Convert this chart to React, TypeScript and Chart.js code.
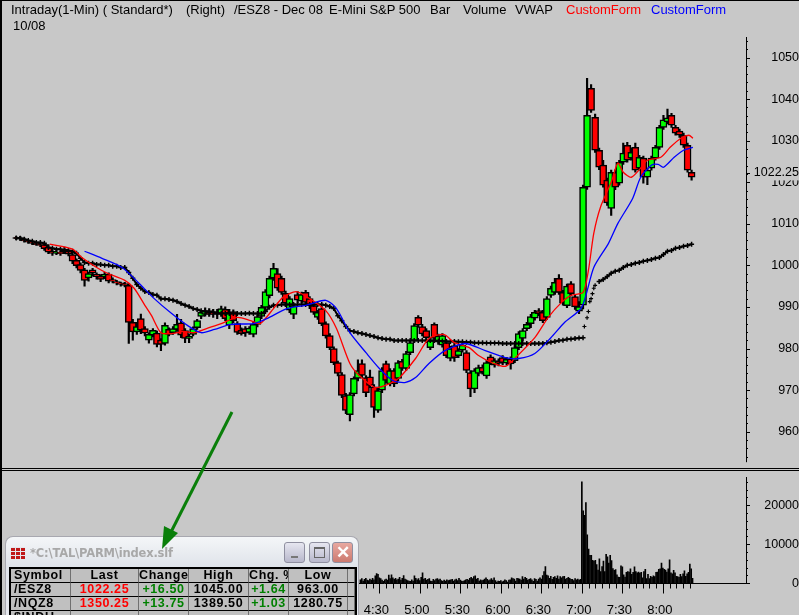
import React, { useEffect, useRef } from "react";
import { Chart, registerables } from "chart.js";

Chart.register(...registerables);

const opens = [
  1006.7,
  1006.6,1006.3,1005.9,1005.6,1005.3,1005,1005,1004.4,1003.4,1003,
  1003.2,1003.9,1003.4,1002.6,1001.2,1000.2,998.9,997,998.9,997.9,
  997.4,997.2,997.9,996.6,996.1,995.8,995.6,995.2,986.3,984,
  987.2,984.8,982,983.2,983.7,982,981.2,984.6,983.8,984.6,
  986.2,984.3,982.4,983.4,985,987.7,988.2,989.1,988.7,988.2,
  988.2,989.4,985.6,988.9,986,984.4,984.8,983.9,
  983.4,985.8,987.7,989.9,992.7,996.9,998,996.9,993.3,989.2,
  988.2,993,991.4,993.5,992,990.3,987.5,989.6,986,983.1,
  980,976.6,973.7,968.7,964.1,969.1,972.8,976.4,973,973.2,
  970.8,965.1,970,976.4,971.5,974.7,972.8,976.9,975.2,979,
  981.9,987.5,985.3,984.3,980.2,985.8,981.5,980.8,981.4,977.6,
  980.7,978.3,979.6,979,974.2,970.3,974,975.5,973.4,978,
  976,977,977.8,976.5,977.5,977.1,980.2,982.4,984.8,986,
  987.3,989.1,988.7,987.5,992.8,993.5,996.9,993.5,990.3,995.6,
  992.5,989,990.4,1018.8,1042.6,1035.6,1027.7,1024.1,1020.5,1013.7,
  1022.4,1019.8,1024.8,1028.9,1025.8,1028.4,1023.4,1025.8,1021.2,1023.4,
  1025.8,1028.4,1033.2,1034.5,1036.1,1033.2,1032.3,1031.3,1028.9,1022.4,
];
const closes = [
  1006.5,
  1006.3,1005.9,1005.6,1005.3,1005,1004.8,1004,1003.2,1002.9,1003.2,
  1002.8,1003.2,1002.7,1001,999.9,998.8,996.4,998,998.1,997.3,
  996.6,997.9,996.2,996.2,995.7,995.4,995.2,986.3,984,985.3,
  984.4,983.7,983.4,984.4,981,981,985.6,983.4,984.8,985.8,
  983.2,982.4,983,984.8,986.7,988.7,989.1,988.2,988.2,988.9,
  989.6,987.2,988.7,986.7,983.9,983.6,983.7,984.9,
  985.8,987.7,989.9,993.7,996.9,999.3,994.5,993.5,990.9,992,
  990.3,991.6,993,991.1,990.3,988.7,988.7,986,983,980.2,
  976.6,974,968.7,965.1,968.9,972.8,974.7,973.5,969.4,971.1,
  965.8,969.9,974.7,972.3,974.7,971.5,976.6,975.2,978.8,981.4,
  985.5,985.6,983.5,982.6,981.9,982.4,983,983.1,978.3,980,
  977.8,979.5,980.8,974.7,970.3,974.7,975.4,974.3,976.6,976.6,
  977.1,976.4,976.6,977.4,976.3,980.2,983.6,984.3,985.8,987.7,
  988.7,988.4,986.7,992,994.5,995.9,993.5,990.9,995,993.2,
  990,990.1,1018.8,1036.1,1037.3,1027.7,1023.6,1019.3,1015,1022.4,
  1018.8,1024.8,1027,1025.3,1027.2,1022.9,1026,1021.2,1022.9,1025.8,
  1028.4,1033.2,1035,1035.5,1033.7,1031.8,1031.3,1028.9,1022.9,1021.2,
];
const highs = [
  1007,
  1007,1006.6,1006.1,1005.8,1005.6,1005.3,1005.3,1005,1003.8,1003.6,
  1003.5,1004.4,1003.6,1003,1001.6,1000.6,999.3,998.4,999.3,998.2,
  997.8,998.3,998.2,997,996.4,996,995.9,995.6,987,986.3,
  988.3,985.3,983.8,984.8,984.2,982.4,986.2,985,985.3,988.2,
  987,984.8,983.4,985.2,987,989.1,989.8,989.6,989.4,989.4,
  990.2,990,989.4,989.3,986.5,985,985.3,985.3,
  986.4,988.1,990.4,994.2,997.4,1000.5,999.2,997.4,993.8,992.5,
  990.8,993.7,993.6,994,992.5,990.8,989.2,990,986.4,983.6,
  980.4,977,974.2,969.2,969.4,973.2,977.3,977.3,973.5,974.8,
  971.3,970.4,975.4,977,975.2,975.2,977.1,977.4,979.3,981.9,
  986,987.9,985.8,984.8,982.4,986.2,983.5,983.6,982,980.5,
  981.2,980,981.3,979.5,974.7,975.2,976,976.1,977.1,978.5,
  977.6,977.5,978.3,977.9,978,980.7,984.1,984.8,986.3,988.2,
  989.2,989.6,989.2,992.5,995,996.9,997.8,994,995.5,996.1,
  993,991.3,1019.3,1045,1043.5,1036.4,1028.2,1025.3,1021,1022.9,
  1023,1025.3,1029.4,1029.6,1028.3,1029.4,1026.5,1026.3,1023.4,1026.3,
  1028.9,1033.7,1036.1,1037.6,1036.6,1033.7,1032.8,1031.8,1029.4,1022.9,
];
const lows = [
  1006.2,
  1006,1005.6,1005.3,1005,1004.8,1004.5,1003.6,1002.8,1002.4,1002.6,
  1002.4,1002.8,1002.3,1000.4,999.4,998.2,995,996.2,997.4,996.7,
  996.1,996.8,995.8,995.8,995.3,995,994.8,981.2,982,983.4,
  983.6,983,981.3,982.8,980.4,979.5,980.8,983,983.4,984.2,
  982.6,981.4,981.4,983,984.6,987.2,987.8,987.7,987.5,987.2,
  987.7,986.7,984.8,986.2,983.4,983.2,982.9,983.4,
  982.8,985.2,987.2,989.4,992.2,996.4,994,993,990.2,988.6,
  987.2,991,990.9,990.6,989.6,988.2,987,985.5,982.5,979.7,
  976.1,973.4,968.2,964.3,962.6,968.6,972.2,973,968.4,970.6,
  963.4,964.6,969.4,971.7,971,970.8,972.2,974.7,974.7,978.5,
  981.4,985.1,983,982.1,979.7,981.9,981,980.3,977.8,977,
  976.9,977.8,979.1,974.2,968.4,969.4,973.4,973.8,972.8,976.1,
  975.5,975.8,976.1,976,975,976.6,979.7,981.9,984.3,985,
  986.8,987.9,986.2,987,992.3,993,993,990.4,989.8,992.7,
  989.4,988.4,989.5,1018.3,1036.8,1027.2,1023,1018.8,1014.4,1012,
  1018.2,1019.3,1024.3,1024.8,1025.3,1022.4,1022.9,1019.8,1019.4,1022.9,
  1025.3,1027.9,1032.7,1034,1033.2,1031.3,1030.8,1028.4,1022.4,1020.5,
];

const redMinutes = [22,39,46,58,65,78,85,93,98,105,113,122,130,139,150,162,172,179,189,196,206,216,228,236,246,253,265,276,283,295,305,316,324,335,342,352,362,369,384,394,404,411,420,424,428,433,441,446,450,456,463,468,478,485,493,499,502];
const redValues = [1005.1,1003.9,1001.9,999.3,998.1,996.4,994.5,990.4,987.9,983.8,983.6,984.1,983.8,984.8,986,987.5,986.7,986,989.6,992.3,993.7,992,989.1,984.8,976.4,973.5,970.6,971.6,973,977.6,982.4,983.4,981.4,980.2,978.3,976.6,975.7,977.6,982.6,987.5,991.1,992.8,993.5,998.8,1007.7,1014,1020,1024.6,1022.4,1021.2,1023.4,1025.3,1026,1028.4,1030.6,1031.3,1030.6];
const blueMinutes = [48,61,76,88,100,113,125,135,145,157,174,184,199,213,228,236,246,258,268,278,287,295,305,317,332,347,362,372,384,396,406,419,428,439,446,457,463,471,476,480,488,495,502];
const blueValues = [1003.4,1001.7,999.5,995.9,992,988.4,985.5,983.8,984.6,985.8,986,987.2,989.6,990.4,991.6,989.6,983.8,979,975.2,972.3,971.8,973,976.4,979.5,981.2,979.5,977.8,977.6,978.8,982.6,986.2,989.9,999.5,1005.3,1010.1,1016.1,1021.2,1024.1,1024.3,1023.6,1026,1027.7,1028.4];

const vwapEarlyValues = [
  1006.6,
  1006.5,1006.3,1006,1005.8,1005.5,1005.5,1005.3,1004.3,1004.1,1003.9,
  1003.9,1003.6,1003.6,1003.4,1002.9,1001.7,1000.7,1000.5,1000.5,1000.2,
  1000.2,1000,1000,999.8,999.8,999.5,999.5,998.3,996.9,995.4,
  994.5,993.7,993.5,993,992.8,992,992,991.8,991.6,991.3,
  990.8,990.4,990.1,989.6,989.4,989.1,988.9,988.7,988.7,988.5,
  988.5,988.4,988.4,988.4,988.4,988.4,988.4,988.5,988.4,988.4,
  988.4,988.9,989.9,990.4,990.4,990.6,990.6,990.6,990.6,990.6,
  990.6,990.6,990.6,990.6,990.6,990.6,990.4,990.1,989.6,987.9,
  986.7,985.3,984.3,984.1,983.8,983.6,983.4,983.1,982.9,982.6,
  982.4,982.2,982.2,981.9,981.9,981.9,981.9,981.9,981.9,981.9,
  981.9,981.9,981.9,981.9,981.8,981.8,981.7,981.7,981.7,981.6,
  981.6,981.5,981.5,981.4,981.4,981.4,981.3,981.3,981.3,981.3,
  981.2,981.2,981.2,981.2,981.2,981.2,981.2,981.2,981.2,981.2,
  981.2,981.4,981.5,981.7,981.9,982,982.2,982.3,982.4,982.5,982.6,
];
const vwapRiseMinutes = [421,423,424,425,426,427,428,429];
const vwapRiseValues = [985.3,987.4,988.9,991.3,992,993.2,994.5,995.2];
const vwapLateMinutes = [432,435,438,441,444,447,450,453,456,459,462,465,468,471,474,477,480,483,486,489,492,495,498,501];
const vwapLateValues = [996.1,996.6,997.3,998.1,998.6,998.8,999.5,1000,1000.2,1000.5,1000.7,1001,1001.2,1001.4,1001.7,1001.9,1002.6,1003.4,1003.6,1004.1,1004.3,1004.6,1004.8,1005.1];

const volumeBefore = [
  900,1200,600,1000,1300,800,
  700,1100,800,1300,900,1900,2500,2300,1400,1200,800,500,900,1100,800,2100,1200,2200,1400,1000,
  1300,900,1100,1500,800,1300,2000,1100,900,700,600,500,900,600,1900,1300,900,1200,700,1500,
  2700,1100,1300,800,1000,1200,600,500,1000,700,1100,1200,900,1100,700,500,800,600,900,700,
  800,900,1000,600,900,1100,700,1300,800,600,500,700,900,1000,800,1300,1500,1200,1700,1900,
  1100,1300,600,900,700,800,1100,1400,1000,700,900,1200,800,1400,700,300,600,500,700,400,
  600,900,700,300,800,900,1400,1200,1100,600,1300,1200,1100,800,1700,1100,1500,1300,800,1000,
  1200,900,500,1200,1000,600,1100,1400,1100,2000,3000,4300,2100,1900,1300,1800,1000,1500,1700,1300,
  1900,1100,1700,1400,1700,1800,1100,1300,1500,1300,1000,1000,700,1200,900,1100,800,1000,
];
const volumeAfter = [
  26000,18600,17400,20700,12400,8800,7200,7200,5900,5700,5900,4800,3400,6300,3000,4300,5700,3000,7400,6800,
  5200,7200,5800,3800,3300,3500,2200,1600,1500,4500,4200,2200,1600,2800,3000,2900,3700,2300,2800,4200,
  3000,2700,2900,2600,2800,1400,3000,3600,1200,2300,1200,1800,1500,1900,1700,2800,2900,3600,3700,5200,
  3900,3600,3400,2900,3700,6000,2700,2400,3300,2700,1800,1700,1500,2300,1700,2400,3200,1800,2400,2800,4900,3700,1300,
];

const BG = "#c8c8c8";
const AXIS_X_MIN = -11;
const AXIS_X_MAX = 541.6;
const AXIS_WIDTH = 53;
const LAST_PRICE = 1022.25;

const tickRange = (a: number, b: number, s: number) => {
  const r: number[] = [];
  for (let v = a; v <= b; v += s) r.push(v);
  return r;
};

const fixYBox = (s: any) => {
  s.width = AXIS_WIDTH;
  s.paddingTop = 0;
  s.paddingBottom = 0;
};

const axisPlugin = (majorEvery: number, extra: number[]) => ({
  id: "axisMarks",
  afterDatasetsDraw(chart: any) {
    const { ctx, chartArea, scales } = chart;
    const y = scales.y;
    const xr = chartArea.right;
    ctx.save();
    ctx.strokeStyle = "#000";
    ctx.lineWidth = 1;
    ctx.beginPath();
    ctx.moveTo(xr + 0.5, chartArea.top);
    ctx.lineTo(xr + 0.5, chartArea.bottom + 0.5);
    for (const t of y.ticks) {
      const py = Math.round(y.getPixelForValue(t.value)) + 0.5;
      const len = t.value % majorEvery === 0 || extra.includes(t.value) ? 4 : 2;
      ctx.moveTo(xr, py);
      ctx.lineTo(xr + len, py);
    }
    ctx.stroke();
    ctx.restore();
  },
});

const timeAxisPlugin = {
  id: "timeMarks",
  afterDatasetsDraw(chart: any) {
    const { ctx, chartArea, scales } = chart;
    const x = scales.x;
    const yb = Math.round(chartArea.bottom) + 0.5;
    ctx.save();
    ctx.strokeStyle = "#000";
    ctx.lineWidth = 1;
    ctx.beginPath();
    ctx.moveTo(20, yb);
    ctx.lineTo(chartArea.right + 3, yb);
    for (const t of x.ticks) {
      const px = Math.round(x.getPixelForValue(t.value)) + 0.5;
      ctx.moveTo(px, yb);
      ctx.lineTo(px, yb + (t.value % 30 === 0 ? 10 : 5));
    }
    ctx.stroke();
    ctx.restore();
  },
};

const label = (left: number, text: string, color = "#000") => (
  <span key={left} style={{ position: "absolute", left, top: 2, color, whiteSpace: "pre" }}>{text}</span>
);

const rows = [
  ["/ESZ8", "1022.25", "+16.50", "1045.00", "+1.64", "963.00"],
  ["/NQZ8", "1350.25", "+13.75", "1389.50", "+1.03", "1280.75"],
  ["$INDU", "", "", "", "", ""],
];
const headers = ["Symbol", "Last", "Change", "High", "Chg. %", "Low", ""];
const colWidths = [60, 68, 50, 60, 40, 59, 7];

function QuoteWindow() {
  const cell: React.CSSProperties = {
    borderRight: "1px solid #707070",
    borderBottom: "1px solid #000",
    padding: 0,
    height: 13,
    lineHeight: "13px",
    overflow: "hidden",
    whiteSpace: "nowrap",
    textAlign: "center",
    letterSpacing: 0.6,
  };
  const btn = (left: number, bg: string): React.CSSProperties => ({
    position: "absolute", left, top: 5, width: 21, height: 21, borderRadius: 3,
    background: bg, border: "1px solid #8f8fa0", boxSizing: "border-box",
  });
  return (
    <div style={{
      position: "absolute", left: 5, top: 536, width: 354, height: 79, overflow: "hidden",
      background: "linear-gradient(#f4f6f8, #dfe3ea 30px, #e6e8ee)", border: "1px solid #a8a8b0", borderBottom: "none",
      borderRadius: "8px 8px 0 0", boxSizing: "border-box",
    }}>
      <div style={{ position: "absolute", left: 5, top: 10, width: 14, height: 12, background:
        "repeating-linear-gradient(0deg,transparent 0 3px,#e4e6ec 3px 4px),repeating-linear-gradient(90deg,#c01818 0 4px,#e4e6ec 4px 5px)" }} />
      <div style={{ position: "absolute", left: 24, top: 9, font: "bold 11.5px 'DejaVu Sans'", color: "#a8a8a8", letterSpacing: -0.2 }}>*C:\TAL\PARM\index.slf</div>
      <div style={btn(278, "linear-gradient(#e6e6f0,#b8b8cc)")}>
        <div style={{ position: "absolute", left: 6, top: 13, width: 7, height: 2, background: "#777" }} />
      </div>
      <div style={btn(303, "linear-gradient(#e6e6f0,#b8b8cc)")}>
        <div style={{ position: "absolute", left: 4, top: 4, width: 11, height: 11, border: "1px solid #666", borderTopWidth: 2, boxSizing: "border-box" }} />
      </div>
      <div style={{ ...btn(326, "linear-gradient(#e8a8a0,#cc7a70)"), color: "#fff", font: "bold 17px 'Liberation Sans'", lineHeight: "19px", textAlign: "center" }}>✕</div>
      <table style={{
        position: "absolute", left: 3, top: 30, width: 345, tableLayout: "fixed", borderCollapse: "separate", borderSpacing: 0,
        background: "#c0c0c0", borderTop: "2px solid #000", borderLeft: "2px solid #000", borderRight: "2px solid #000",
        font: "bold 12.5px 'Liberation Sans'", color: "#000",
      }}>
        <colgroup>{colWidths.map((w, i) => <col key={i} style={{ width: w }} />)}</colgroup>
        <thead>
          <tr>{headers.map((h, i) => <td key={i} style={{ ...cell, textAlign: i === 0 ? "left" : i === 4 ? "right" : "center", paddingLeft: i === 0 ? 3 : 0 }}>{h}</td>)}</tr>
        </thead>
        <tbody>
          {rows.map((r) => (
            <tr key={r[0]}>
              {r.map((c, i) => (
                <td key={i} style={{
                  ...cell,
                  textAlign: i === 0 ? "left" : "center",
                  paddingLeft: i === 0 ? 3 : 0,
                  color: i === 1 ? "#ff0000" : i === 2 || i === 4 ? "#008000" : "#000",
                }}>{c}</td>
              ))}
              <td style={cell} />
            </tr>
          ))}
        </tbody>
      </table>
    </div>
  );
}

export default function App() {
  const priceRef = useRef<HTMLCanvasElement>(null);
  const volRef = useRef<HTMLCanvasElement>(null);

  useEffect(() => {
    const minutes = opens.map((_, i) => (i - 1) * 3);
    const xScale = { type: "linear", min: AXIS_X_MIN, max: AXIS_X_MAX, offset: false, display: false, grid: { display: false } };
    const price = new Chart(priceRef.current!, {
      type: "bar",
      data: {
        datasets: [
          {
            type: "bar", order: 6, barThickness: 1.5, backgroundColor: "#000", grouped: false,
            data: minutes.map((m, i) => ({ x: m, y: [lows[i], highs[i]] })),
          },
          {
            type: "bar", order: 5, barThickness: 7, grouped: false, borderColor: "#000", borderWidth: 1.5, borderSkipped: false,
            backgroundColor: opens.map((o, i) => (closes[i] >= o ? "#00ff00" : "#ff0000")),
            data: minutes.map((m, i) => ({ x: m, y: [Math.min(opens[i], closes[i]), Math.max(opens[i], closes[i])] })),
          },
          {
            type: "line", order: 3, borderColor: "#000", borderWidth: 2, pointStyle: "cross", pointRadius: 2.5, pointBorderWidth: 1.5, pointBorderColor: "#000",
            data: vwapEarlyValues.map((v, i) => ({ x: (i - 1) * 3, y: v })),
          },
          {
            type: "line", order: 3, showLine: false, borderColor: "#000", pointStyle: "cross", pointRadius: 2, pointBorderWidth: 1.2, pointBorderColor: "#000",
            data: vwapRiseMinutes.map((m, i) => ({ x: m, y: vwapRiseValues[i] })),
          },
          {
            type: "line", order: 3, borderColor: "#000", borderWidth: 2, pointStyle: "cross", pointRadius: 2.5, pointBorderWidth: 1.5, pointBorderColor: "#000",
            data: vwapLateMinutes.map((m, i) => ({ x: m, y: vwapLateValues[i] })),
          },
          {
            type: "line", order: 2, borderColor: "#ff0000", borderWidth: 1.3, pointRadius: 0, tension: 0.25,
            data: redMinutes.map((m, i) => ({ x: m, y: redValues[i] })),
          },
          {
            type: "line", order: 1, borderColor: "#0000ff", borderWidth: 1.3, pointRadius: 0, tension: 0.25,
            data: blueMinutes.map((m, i) => ({ x: m, y: blueValues[i] })),
          },
        ],
      },
      options: {
        responsive: false, animation: false, devicePixelRatio: 1,
        layout: { padding: { top: 37, bottom: 6.3, left: 0, right: 0 } },
        plugins: { legend: { display: false }, tooltip: { enabled: false } },
        scales: {
          x: xScale,
          y: {
            position: "right", min: 952.77, max: 1054.94,
            grid: { display: false }, border: { display: false },
            afterFit: fixYBox,
            afterBuildTicks: (s: any) => {
              s.ticks = [...tickRange(954, 1054, 2), LAST_PRICE].map((value) => ({ value }));
            },
            ticks: {
              autoSkip: false, stepSize: 2, crossAlign: "far", padding: 7, color: "#000",
              font: { family: "'Liberation Sans'", size: 12.5 },
              showLabelBackdrop: (c: any) => c.tick?.value === LAST_PRICE,
              backdropColor: BG, backdropPadding: 0,
              callback: (v: number) => (v === LAST_PRICE ? "1022.25" : v % 10 === 0 ? String(v) : ""),
            },
          },
        },
      } as any,
      plugins: [axisPlugin(10, [LAST_PRICE]) as any],
    } as any);

    const before = volumeBefore.map((v, i) => ({ x: 419 - (volumeBefore.length - 1 - i), y: v }));
    const after = volumeAfter.map((v, i) => ({ x: 420 + i, y: v }));
    const vol = new Chart(volRef.current!, {
      type: "bar",
      data: { datasets: [{ barThickness: 1, backgroundColor: "#000", data: [...before, ...after] }] },
      options: {
        responsive: false, animation: false, devicePixelRatio: 1,
        layout: { padding: { top: 7, bottom: 0, left: 0, right: 0 } },
        plugins: { legend: { display: false }, tooltip: { enabled: false } },
        scales: {
          x: {
            type: "linear", min: AXIS_X_MIN, max: AXIS_X_MAX, offset: false, position: "bottom",
            grid: { display: false }, border: { display: false },
            afterFit: (s: any) => { s.height = 31.7; s.paddingLeft = 0; s.paddingRight = 0; },
            afterBuildTicks: (s: any) => { s.ticks = tickRange(260, 500, 5).map((value) => ({ value })); },
            ticks: {
              autoSkip: false, stepSize: 5, maxRotation: 0, minRotation: 0, padding: 11, labelOffset: -3, color: "#000",
              font: { family: "'Liberation Sans'", size: 13 },
              callback: (v: number) => (v % 30 === 0 && v <= 480 ? `${Math.floor(v / 60)}:${String(v % 60).padStart(2, "0")}` : ""),
            },
          },
          y: {
            position: "right", min: 0, max: 27256,
            grid: { display: false }, border: { display: false },
            afterFit: fixYBox,
            afterBuildTicks: (s: any) => { s.ticks = tickRange(0, 26000, 2000).map((value) => ({ value })); },
            ticks: {
              autoSkip: false, stepSize: 2000, crossAlign: "far", padding: 17, color: "#000",
              font: { family: "'Liberation Sans'", size: 12.5 },
              callback: (v: number) => (v % 10000 === 0 ? String(v) : ""),
            },
          },
        },
      } as any,
      plugins: [axisPlugin(10000, []) as any, timeAxisPlugin as any],
    } as any);

    return () => {
      price.destroy();
      vol.destroy();
    };
  }, []);

  return (
    <div style={{ position: "fixed", left: 0, top: 0, width: 799, height: 615, overflow: "hidden", background: BG }}>
      <canvas ref={priceRef} width={799} height={468} style={{ position: "absolute", left: 0, top: 0 }} />
      <canvas ref={volRef} width={799} height={145} style={{ position: "absolute", left: 0, top: 470 }} />
      <div style={{ position: "absolute", left: 0, top: 0, width: 799, height: 1, background: "#000" }} />
      <div style={{ position: "absolute", left: 0, top: 0, width: 2, height: 615, background: "#000" }} />
      <div style={{ position: "absolute", left: 0, top: 468, width: 799, height: 1, background: "#000" }} />
      <div style={{ position: "absolute", left: 0, top: 470, width: 799, height: 1, background: "#000" }} />
      <div style={{ position: "absolute", left: 0, top: 0, width: 799, height: 36, font: "13px 'Liberation Sans'" }}>
        {label(11, "Intraday(1-Min) ( Standard*)")}
        {label(186, "(Right)")}
        {label(234, "/ESZ8 - Dec 08")}
        {label(329, "E-Mini S&P 500")}
        {label(430, "Bar")}
        {label(463, "Volume")}
        {label(515, "VWAP")}
        {label(566, "CustomForm", "#ff0000")}
        {label(651, "CustomForm", "#0000ff")}
        <span style={{ position: "absolute", left: 13, top: 18, whiteSpace: "pre" }}>10/08</span>
      </div>
      <QuoteWindow />
      <svg width={799} height={615} style={{ position: "absolute", left: 0, top: 0, pointerEvents: "none" }}>
        <line x1={232} y1={412} x2={171} y2={532} stroke="#0a7f0a" strokeWidth={3} />
        <polygon points="162,549 164,526 178,533" fill="#0a7f0a" />
      </svg>
    </div>
  );
}
